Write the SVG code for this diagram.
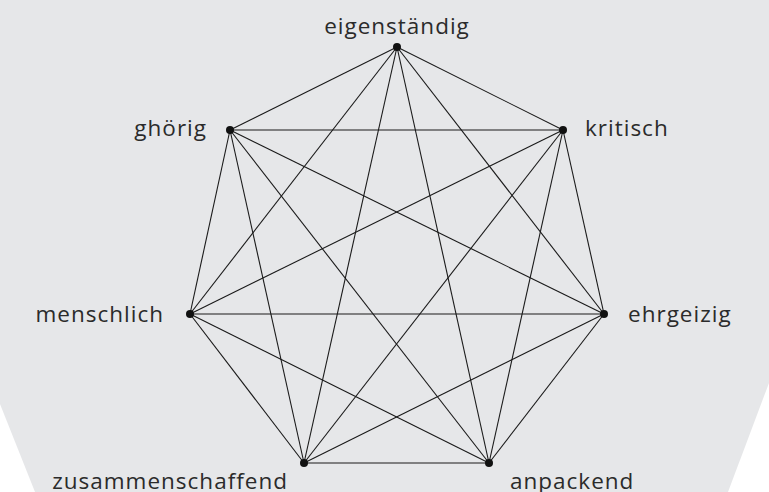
<svg xmlns="http://www.w3.org/2000/svg" width="769" height="492" viewBox="0 0 769 492">
<style>
.bg{fill:#e6e7e9}
.edge{stroke:#1a1a1a;stroke-width:1.1;fill:none}
.dot{fill:#111}
.lbl{font-family:"Open Sans","Noto Sans","Liberation Sans",sans-serif;font-size:22.5px;letter-spacing:1px;fill:#2b2b2b}
</style>
<rect x="0" y="0" width="769" height="492" fill="#ffffff"/>
<polygon class="bg" points="0,0 769,0 769,383 728,492 35,492 0,404"/>
<g id="connectors">
<line class="edge" x1="397" y1="47" x2="230" y2="130"/>
<line class="edge" x1="397" y1="47" x2="563" y2="130"/>
<line class="edge" x1="397" y1="47" x2="190" y2="314"/>
<line class="edge" x1="397" y1="47" x2="604" y2="314"/>
<line class="edge" x1="397" y1="47" x2="304" y2="463"/>
<line class="edge" x1="397" y1="47" x2="489" y2="463"/>
<line class="edge" x1="230" y1="130" x2="563" y2="130"/>
<line class="edge" x1="230" y1="130" x2="190" y2="314"/>
<line class="edge" x1="230" y1="130" x2="604" y2="314"/>
<line class="edge" x1="230" y1="130" x2="304" y2="463"/>
<line class="edge" x1="230" y1="130" x2="489" y2="463"/>
<line class="edge" x1="563" y1="130" x2="190" y2="314"/>
<line class="edge" x1="563" y1="130" x2="604" y2="314"/>
<line class="edge" x1="563" y1="130" x2="304" y2="463"/>
<line class="edge" x1="563" y1="130" x2="489" y2="463"/>
<line class="edge" x1="190" y1="314" x2="604" y2="314"/>
<line class="edge" x1="190" y1="314" x2="304" y2="463"/>
<line class="edge" x1="190" y1="314" x2="489" y2="463"/>
<line class="edge" x1="604" y1="314" x2="304" y2="463"/>
<line class="edge" x1="604" y1="314" x2="489" y2="463"/>
<line class="edge" x1="304" y1="463" x2="489" y2="463"/>
</g>
<g id="n-eigenstaendig"><circle class="dot" cx="397" cy="47" r="4"/><text class="lbl" x="397" y="34" text-anchor="middle">eigenständig</text></g>
<g id="n-ghoerig"><circle class="dot" cx="230" cy="130" r="4"/><text class="lbl" x="207" y="136" text-anchor="end">ghörig</text></g>
<g id="n-kritisch"><circle class="dot" cx="563" cy="130" r="4"/><text class="lbl" x="585" y="136">kritisch</text></g>
<g id="n-menschlich"><circle class="dot" cx="190" cy="314" r="4"/><text class="lbl" x="164" y="322" text-anchor="end">menschlich</text></g>
<g id="n-ehrgeizig"><circle class="dot" cx="604" cy="314" r="4"/><text class="lbl" x="628" y="322">ehrgeizig</text></g>
<g id="n-zusammenschaffend"><circle class="dot" cx="304" cy="463" r="4"/><text class="lbl" x="288" y="489" text-anchor="end">zusammenschaffend</text></g>
<g id="n-anpackend"><circle class="dot" cx="489" cy="463" r="4"/><text class="lbl" x="510" y="489">anpackend</text></g>
</svg>
